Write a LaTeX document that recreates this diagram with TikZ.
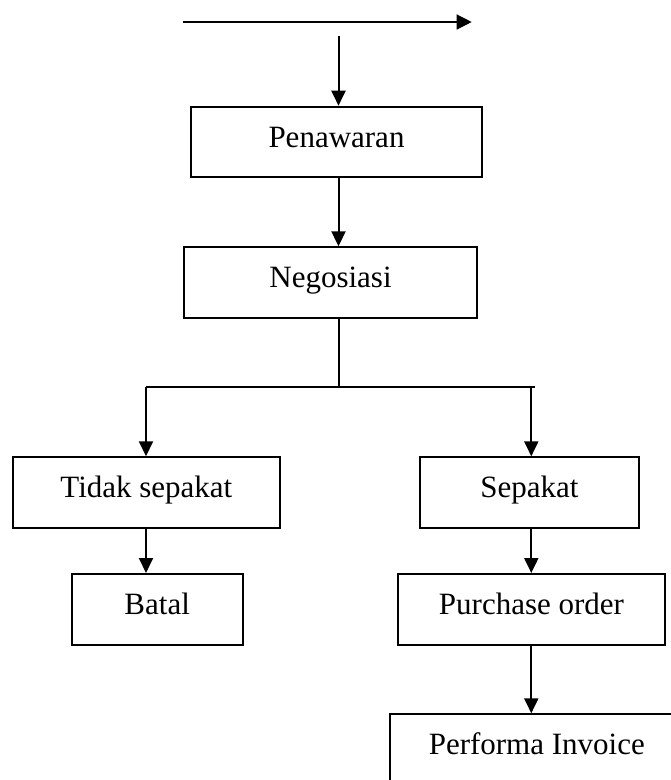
\documentclass[tikz,border=0pt]{standalone}
\usepackage{fontspec}
\setmainfont{Liberation Serif}
\usetikzlibrary{arrows.meta}

\tikzset{
  box/.style={draw=black, line width=2pt, rectangle, inner sep=0pt,
    font=\fontsize{31}{36}\selectfont, text height=19.2pt, text depth=8.7pt},
  link/.style={draw=black, line width=2pt},
  arr/.style={link, -{Triangle[length=15pt,width=14pt]}},
  toparr/.style={draw=black, line width=1.3pt, -{Triangle[length=15pt,width=15pt]}}
}

\begin{document}
\begin{tikzpicture}[x=1pt, y=-1pt]
  \useasboundingbox (0,0) rectangle (671,780);
  \clip (0,0) rectangle (671,780);

  % process boxes
  \node[box, minimum width=291.6pt, minimum height=70.6pt] (pen)   at (336.5,142)   {Penawaran};
  \node[box, minimum width=292.4pt, minimum height=70.2pt] (neg)   at (330.5,282.4) {Negosiasi};
  \node[box, minimum width=267.3pt, minimum height=70.7pt] (tidak) at (146.4,492.6) {Tidak sepakat};
  \node[box, minimum width=219pt,   minimum height=70.2pt] (sep)   at (529.5,492.4) {Sepakat};
  \node[box, minimum width=171pt,   minimum height=71pt]   (batal) at (157.2,609.5) {Batal};
  \node[box, minimum width=267.6pt, minimum height=71pt]   (po)    at (531.5,609.5) {Purchase order};
  \node[box, minimum width=293.6pt, minimum height=70pt]   (pi)    at (536.8,749.3) {Performa Invoice};

  % helper points for the connectors
  \coordinate (ts) at (183,22);
  \coordinate (te) at (471.7,22);
  \coordinate (a0) at (338.5,36);
  \coordinate (j)  at (338.7,387.3);
  \coordinate (jl) at (146,387.3);
  \coordinate (jr) at (535,387.3);
  \coordinate (jb) at (531.3,387.3);

  % top flow arrow
  \draw[toparr] (ts) -- (te);

  % main chain
  \draw[arr] (a0) -- (a0 |- pen.north);
  \draw[arr] (pen.south -| a0) -- (neg.north -| a0);
  \draw[link] (neg.south -| j) -- (j);
  \draw[link] (jl) -- (jr);

  % left branch
  \draw[arr] (jl) -- (jl |- tidak.north);
  \draw[arr] (tidak.south -| jl) -- (batal.north -| jl);

  % right branch
  \draw[arr] (jb) -- (jb |- sep.north);
  \draw[arr] (sep.south -| jb) -- (po.north -| jb);
  \draw[arr] (po.south -| jb) -- (pi.north -| jb);
\end{tikzpicture}
\end{document}
